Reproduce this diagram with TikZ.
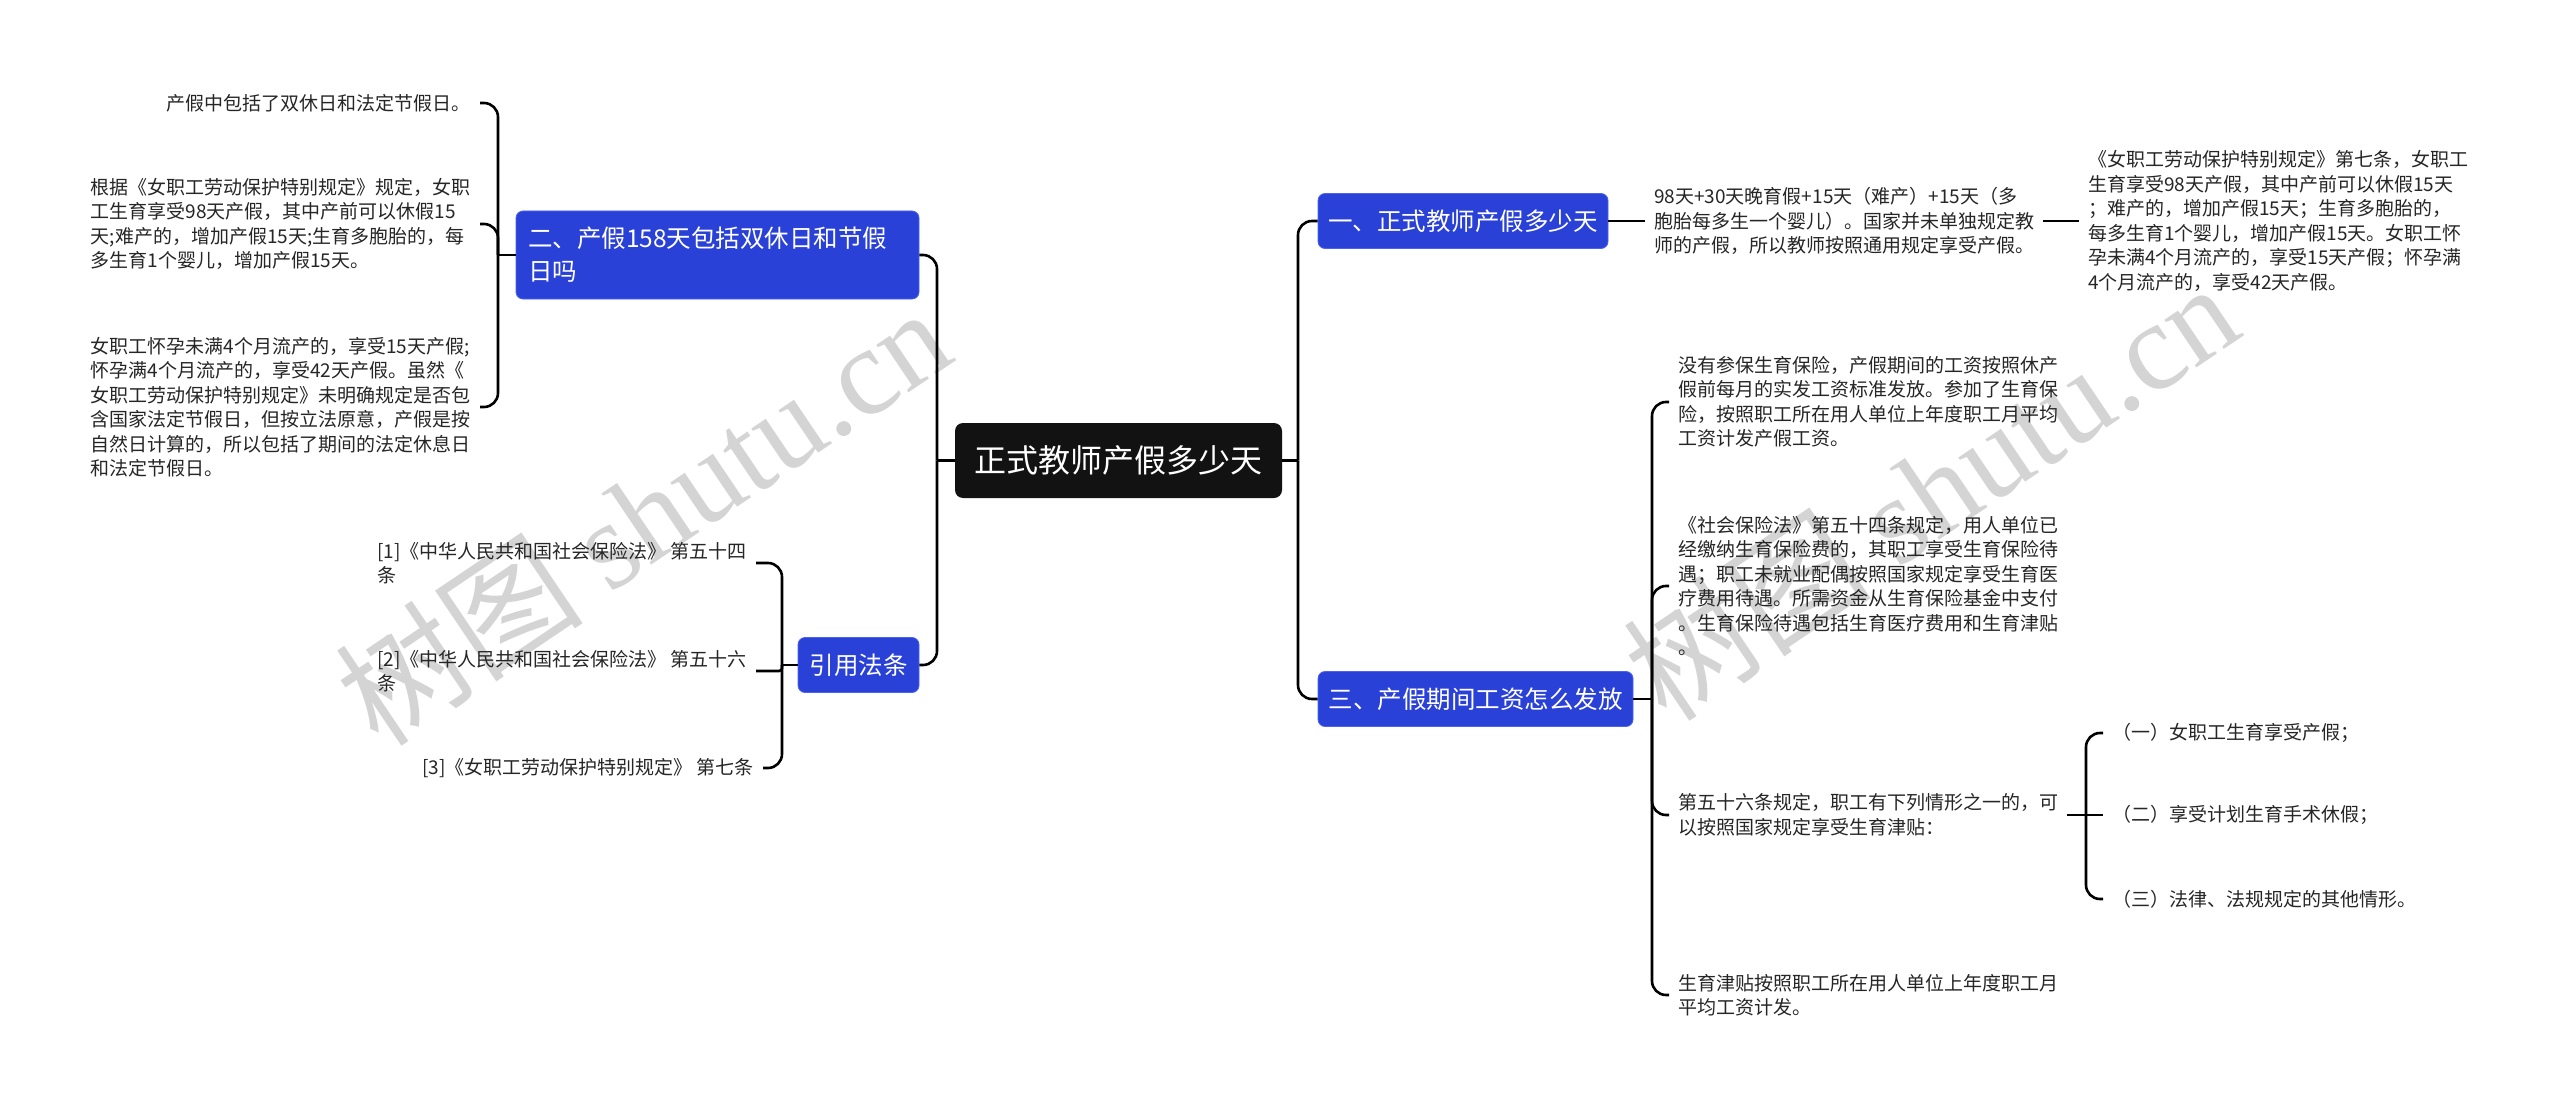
\documentclass[tikz,border=0pt]{standalone}
\usepackage{fontspec}
\setmainfont{Noto Sans CJK SC}
\newfontfamily\wmserif{Liberation Serif}
\usetikzlibrary{positioning}
\definecolor{rootfill}{HTML}{121212}
\definecolor{branchfill}{HTML}{2A41D8}
\definecolor{branchline}{HTML}{4B63F0}
\definecolor{wmgray}{HTML}{D4D4D4}
\tikzset{
  root/.style={fill=rootfill,text=white,rounded corners=8pt,inner sep=0pt,
               font=\fontsize{32}{38}\selectfont,
               minimum width=327pt,minimum height=75pt},
  branch/.style={fill=branchfill,draw=branchline,line width=0.8pt,
                 text=white,rounded corners=7pt,inner sep=0pt,
                 font=\fontsize{24.5}{33}\selectfont,minimum height=55pt},
  leaf/.style={font=\fontsize{19}{24.5}\selectfont,align=left,
               inner xsep=9pt,inner ysep=2pt,text=black!85},
  link/.style={draw=black,line width=2.6pt,rounded corners=14pt},
  wmark/.style={text=wmgray,font=\fontsize{125}{125}\selectfont,rotate=34},
}

\begin{document}
\begin{tikzpicture}[x=1pt, y=-1pt]
  \useasboundingbox[fill=white] (0,0) rectangle (2560,1110);
  % watermarks, behind everything
  \node[wmark] (wm1) at (642,515) {树图 {\wmserif shutu.cn}};
  \node[wmark] (wm2) at (1930,490) {树图 {\wmserif shutu.cn}};

  % centre and the four topics
  \node[root] (root) at (1118.5,460.5) {正式教师产假多少天};
  \node[branch, minimum width=290pt] (b1) at (1463,221)
       {一、正式教师产假多少天};
  \node[branch, minimum width=403pt, minimum height=88pt,
        align=left, text width=379pt] (b2) at (717.5,255)
       {二、产假158天包括双休日和节假\\日吗};
  \node[branch, minimum width=315pt] (b3) at (1475.5,699)
       {三、产假期间工资怎么发放};
  \node[branch, minimum width=121pt] (cite) at (858.5,665) {引用法条};

  % junctions on the spines
  \coordinate (jL) at (937,460.5);
  \coordinate (jR) at (1298,460.5);
  \coordinate (j2) at (498,255);
  \coordinate (jc) at (782,665);
  \coordinate (j3) at (1652,699);
  \coordinate (j3c) at (2086,815);

  % topic one
  \node[leaf, anchor=west] (t1a) at (1645,221)
       {98天+30天晚育假+15天（难产）+15天（多\\胞胎每多生一个婴儿）。国家并未单独规定教\\师的产假，所以教师按照通用规定享受产假。};
  \node[leaf, anchor=west] (t1b) at (2079,221)
       {《女职工劳动保护特别规定》第七条，女职工\\生育享受98天产假，其中产前可以休假15天\\；难产的，增加产假15天；生育多胞胎的，\\每多生育1个婴儿，增加产假15天。女职工怀\\孕未满4个月流产的，享受15天产假；怀孕满\\4个月流产的，享受42天产假。};

  % topic two
  \node[leaf, anchor=east] (la) at (480,103) {产假中包括了双休日和法定节假日。};
  \node[leaf, anchor=east] (lb) at (480,224)
       {根据《女职工劳动保护特别规定》规定，女职\\工生育享受98天产假，其中产前可以休假15\\天;难产的，增加产假15天;生育多胞胎的，每\\多生育1个婴儿，增加产假15天。};
  \node[leaf, anchor=east] (lc) at (480,407)
       {女职工怀孕未满4个月流产的，享受15天产假;\\怀孕满4个月流产的，享受42天产假。虽然《\\女职工劳动保护特别规定》未明确规定是否包\\含国家法定节假日，但按立法原意，产假是按\\自然日计算的，所以包括了期间的法定休息日\\和法定节假日。};

  % topic three
  \node[leaf, anchor=west] (t3a) at (1669,402)
       {没有参保生育保险，产假期间的工资按照休产\\假前每月的实发工资标准发放。参加了生育保\\险，按照职工所在用人单位上年度职工月平均\\工资计发产假工资。};
  \node[leaf, anchor=west] (t3b) at (1669,586)
       {《社会保险法》第五十四条规定，用人单位已\\经缴纳生育保险费的，其职工享受生育保险待\\遇；职工未就业配偶按照国家规定享受生育医\\疗费用待遇。所需资金从生育保险基金中支付\\。生育保险待遇包括生育医疗费用和生育津贴\\。};
  \node[leaf, anchor=west] (t3c) at (1669,815)
       {第五十六条规定，职工有下列情形之一的，可\\以按照国家规定享受生育津贴：};
  \node[leaf, anchor=west] (t3d) at (1669,995)
       {生育津贴按照职工所在用人单位上年度职工月\\平均工资计发。};
  \node[leaf, anchor=west] (s1) at (2103,733) {（一）女职工生育享受产假；};
  \node[leaf, anchor=west] (s2) at (2103,815) {（二）享受计划生育手术休假；};
  \node[leaf, anchor=west] (s3) at (2103,899) {（三）法律、法规规定的其他情形。};

  % cited articles
  \node[leaf, anchor=east] (c1) at (756,563)
       {[1]《中华人民共和国社会保险法》 第五十四\\条};
  \node[leaf, anchor=east] (c2) at (756,671)
       {[2]《中华人民共和国社会保险法》 第五十六\\条};
  \node[leaf, anchor=east] (c3) at (763,768)
       {[3]《女职工劳动保护特别规定》 第七条};

  % connectors: a stub to the spine, then one bend per child
  \draw[link] (root.west) -- (jL);
  \draw[link] (jL) |- (b2.east);
  \draw[link] (jL) |- (cite.east);
  \draw[link] (root.east) -- (jR);
  \draw[link] (jR) |- (b1.west);
  \draw[link] (jR) |- (b3.west);

  \draw[link] (b1.east) -- (t1a.west);
  \draw[link] (t1a.east) -- (t1b.west);

  \draw[link] (b2.west) -- (j2);
  \foreach \n in {la,lb,lc}
    \draw[link] (j2) |- (\n.east);

  \draw[link] (b3.east) -- (j3);
  \foreach \n in {t3a,t3b,t3c,t3d}
    \draw[link] (j3) |- (\n.west);
  \draw[link] (t3c.east) -- (j3c);
  \draw[link] (j3c) |- (s1.west);
  \draw[link] (j3c) -- (s2.west);
  \draw[link] (j3c) |- (s3.west);

  \draw[link] (cite.west) -- (jc);
  \draw[link, rounded corners=3pt] (jc) |- (c2.east);
  \draw[link] (jc) |- (c1.east);
  \draw[link] (jc) |- (c3.east);
\end{tikzpicture}
\end{document}
